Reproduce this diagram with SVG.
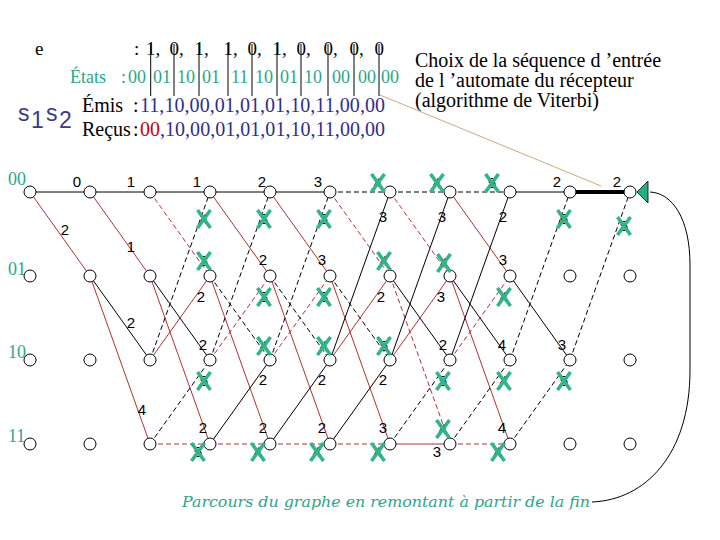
<svg xmlns="http://www.w3.org/2000/svg" width="720" height="540" viewBox="0 0 720 540">
<defs>
<style>
.b{stroke:#000;stroke-width:1;fill:none}
.r{stroke:#B03030;stroke-width:1;fill:none}
.d{stroke-dasharray:5 3}
.n{fill:#fff;stroke:#000;stroke-width:1}
.m{font-family:'Liberation Sans',Arial,sans-serif;font-size:15px;text-anchor:middle;fill:#000}
.xm{stroke:#30B48C;stroke-width:3.6;fill:none}
.rl{font-family:'Liberation Serif','Times New Roman',serif;font-size:18px;fill:#2BA58A}
</style>
<path id="x" class="xm" d="M-6.5,-9 L6.5,9 M6.5,-9 L-6.5,9"/>
</defs>
<rect width="720" height="540" fill="#fff"/>

<g id="header">
<text font-family="'Liberation Serif','Times New Roman',serif" x="35" y="55" font-size="19">e</text>
<text font-family="'Liberation Serif','Times New Roman',serif" y="55" font-size="19"><tspan x="134">:</tspan> <tspan x="146">1,</tspan> <tspan x="169.5">0,</tspan> <tspan x="194.5">1,</tspan> <tspan x="223.5">1,</tspan> <tspan x="247.5">0,</tspan> <tspan x="272.5">1,</tspan> <tspan x="296.5">0,</tspan> <tspan x="323.5">0,</tspan> <tspan x="349.5">0,</tspan> <tspan x="374.5">0</tspan></text>
<text font-family="'Liberation Serif','Times New Roman',serif" fill="#2BA58A" y="83" font-size="18"><tspan x="70">États</tspan> <tspan x="121">:</tspan> <tspan x="128">00</tspan> <tspan x="153">01</tspan> <tspan x="177">10</tspan> <tspan x="202">01</tspan> <tspan x="231">11</tspan> <tspan x="255">10</tspan> <tspan x="280">01</tspan> <tspan x="304">10</tspan> <tspan x="332">00</tspan> <tspan x="358">00</tspan> <tspan x="381">00</tspan></text>
<g class="b">
<line x1="150.7" y1="44" x2="150.7" y2="96"/><line x1="174" y1="44" x2="174" y2="96"/><line x1="199" y1="44" x2="199" y2="96"/><line x1="228" y1="44" x2="228" y2="96"/><line x1="252" y1="44" x2="252" y2="96"/><line x1="277" y1="44" x2="277" y2="96"/><line x1="301" y1="44" x2="301" y2="96"/><line x1="328" y1="44" x2="328" y2="96"/><line x1="354" y1="44" x2="354" y2="96"/><line x1="379" y1="44" x2="379" y2="96"/>
</g>
<text font-family="'Liberation Sans',Arial,sans-serif" font-size="23" fill="#3A3A8A"><tspan x="18" y="121">s</tspan><tspan x="31" y="128">1</tspan><tspan x="46" y="121">s</tspan><tspan x="59" y="128">2</tspan></text>
<text font-family="'Liberation Serif','Times New Roman',serif" y="112" font-size="20"><tspan x="82">Émis</tspan> <tspan x="133">:</tspan><tspan x="140" fill="#2E2E8C" textLength="245">11,10,00,01,01,01,10,11,00,00</tspan></text>
<text font-family="'Liberation Serif','Times New Roman',serif" y="136" font-size="20"><tspan x="82">Reçus</tspan> <tspan x="133">:</tspan><tspan x="140" fill="#CC0000">00</tspan><tspan fill="#2E2E8C" textLength="225">,10,00,01,01,01,10,11,00,00</tspan></text>
<text font-family="'Liberation Serif','Times New Roman',serif" font-size="20" fill="#000"><tspan x="415" y="67">Choix de la séquence d ’entrée</tspan><tspan x="415" y="87">de l ’automate du récepteur</tspan><tspan x="415" y="107">(algorithme de Viterbi)</tspan></text>
<line x1="380" y1="95" x2="601" y2="186" stroke="#D4A57A" stroke-width="1"/>
</g>

<g id="row-labels">
<text class="rl" x="8" y="185">00</text>
<text class="rl" x="8" y="275">01</text>
<text class="rl" x="8" y="358">10</text>
<text class="rl" x="8" y="442">11</text>
</g>

<g id="connectors">
<line class="b" x1="30" y1="192" x2="90" y2="192"/>
<line class="r" x1="30" y1="192" x2="90" y2="276"/>
<line class="b" x1="90" y1="192" x2="150" y2="192"/>
<line class="r" x1="90" y1="192" x2="150" y2="276"/>
<line class="b" x1="90" y1="276" x2="150" y2="360"/>
<line class="r" x1="90" y1="276" x2="150" y2="444"/>
<line class="b" x1="150" y1="192" x2="210" y2="192"/>
<line class="r d" x1="150" y1="192" x2="210" y2="276"/>
<line class="b" x1="150" y1="276" x2="210" y2="360"/>
<line class="r" x1="150" y1="276" x2="210" y2="444"/>
<line class="b d" x1="150" y1="360" x2="210" y2="192"/>
<line class="r" x1="150" y1="360" x2="210" y2="276"/>
<line class="b d" x1="150" y1="444" x2="210" y2="360"/>
<line class="r d" x1="150" y1="444" x2="210" y2="444"/>
<line class="b" x1="210" y1="192" x2="270" y2="192"/>
<line class="r" x1="210" y1="192" x2="270" y2="276"/>
<line class="b d" x1="210" y1="276" x2="270" y2="360"/>
<line class="r" x1="210" y1="276" x2="270" y2="444"/>
<line class="b d" x1="210" y1="360" x2="270" y2="192"/>
<line class="r d" x1="210" y1="360" x2="270" y2="276"/>
<line class="b" x1="210" y1="444" x2="270" y2="360"/>
<line class="r d" x1="210" y1="444" x2="270" y2="444"/>
<line class="b" x1="270" y1="192" x2="330" y2="192"/>
<line class="r" x1="270" y1="192" x2="330" y2="276"/>
<line class="b d" x1="270" y1="276" x2="330" y2="360"/>
<line class="r" x1="270" y1="276" x2="330" y2="444"/>
<line class="b d" x1="270" y1="360" x2="330" y2="192"/>
<line class="r d" x1="270" y1="360" x2="330" y2="276"/>
<line class="b" x1="270" y1="444" x2="330" y2="360"/>
<line class="r d" x1="270" y1="444" x2="330" y2="444"/>
<line class="b d" x1="330" y1="192" x2="390" y2="192"/>
<line class="r d" x1="330" y1="192" x2="390" y2="276"/>
<line class="b d" x1="330" y1="276" x2="390" y2="360"/>
<line class="r" x1="330" y1="276" x2="390" y2="444"/>
<line class="b" x1="330" y1="360" x2="390" y2="192"/>
<line class="r" x1="330" y1="360" x2="390" y2="276"/>
<line class="b" x1="330" y1="444" x2="390" y2="360"/>
<line class="r d" x1="330" y1="444" x2="390" y2="444"/>
<line class="b d" x1="390" y1="192" x2="450" y2="192"/>
<line class="r d" x1="390" y1="192" x2="450" y2="276"/>
<line class="b" x1="390" y1="276" x2="450" y2="360"/>
<line class="r d" x1="390" y1="276" x2="450" y2="444"/>
<line class="b" x1="390" y1="360" x2="450" y2="192"/>
<line class="r" x1="390" y1="360" x2="450" y2="276"/>
<line class="b d" x1="390" y1="444" x2="450" y2="360"/>
<line class="r" x1="390" y1="444" x2="450" y2="444"/>
<line class="b d" x1="450" y1="192" x2="510" y2="192"/>
<line class="r" x1="450" y1="192" x2="510" y2="276"/>
<line class="b" x1="450" y1="276" x2="510" y2="360"/>
<line class="r" x1="450" y1="276" x2="510" y2="444"/>
<line class="b" x1="450" y1="360" x2="510" y2="192"/>
<line class="r d" x1="450" y1="360" x2="510" y2="276"/>
<line class="b d" x1="450" y1="444" x2="510" y2="360"/>
<line class="r d" x1="450" y1="444" x2="510" y2="444"/>
<line class="b" x1="510" y1="192" x2="570" y2="192"/>
<line class="b" x1="510" y1="276" x2="570" y2="360"/>
<line class="b d" x1="510" y1="360" x2="570" y2="192"/>
<line class="b d" x1="510" y1="444" x2="570" y2="360"/>
<line x1="570" y1="192" x2="630" y2="192" stroke="#000" stroke-width="4"/>
<line class="b d" x1="570" y1="360" x2="630" y2="192"/>
<path class="b" d="M592,502 C645,500 690,455 690,370 L690,265 C690,218 672,193 650,192"/>
</g>

<g id="nodes">
<g id="n-row00"><circle class="n" cx="30" cy="192" r="6"/><circle class="n" cx="90" cy="192" r="6"/><circle class="n" cx="150" cy="192" r="6"/><circle class="n" cx="210" cy="192" r="6"/><circle class="n" cx="270" cy="192" r="6"/><circle class="n" cx="330" cy="192" r="6"/><circle class="n" cx="390" cy="192" r="6"/><circle class="n" cx="450" cy="192" r="6"/><circle class="n" cx="510" cy="192" r="6"/><circle class="n" cx="570" cy="192" r="6"/><circle class="n" cx="630" cy="192" r="6"/></g>
<g id="n-row01"><circle class="n" cx="30" cy="276" r="6"/><circle class="n" cx="90" cy="276" r="6"/><circle class="n" cx="150" cy="276" r="6"/><circle class="n" cx="210" cy="276" r="6"/><circle class="n" cx="270" cy="276" r="6"/><circle class="n" cx="330" cy="276" r="6"/><circle class="n" cx="390" cy="276" r="6"/><circle class="n" cx="450" cy="276" r="6"/><circle class="n" cx="510" cy="276" r="6"/><circle class="n" cx="570" cy="276" r="6"/><circle class="n" cx="630" cy="276" r="6"/></g>
<g id="n-row10"><circle class="n" cx="30" cy="360" r="6"/><circle class="n" cx="90" cy="360" r="6"/><circle class="n" cx="150" cy="360" r="6"/><circle class="n" cx="210" cy="360" r="6"/><circle class="n" cx="270" cy="360" r="6"/><circle class="n" cx="330" cy="360" r="6"/><circle class="n" cx="390" cy="360" r="6"/><circle class="n" cx="450" cy="360" r="6"/><circle class="n" cx="510" cy="360" r="6"/><circle class="n" cx="570" cy="360" r="6"/><circle class="n" cx="630" cy="360" r="6"/></g>
<g id="n-row11"><circle class="n" cx="30" cy="444" r="6"/><circle class="n" cx="90" cy="444" r="6"/><circle class="n" cx="150" cy="444" r="6"/><circle class="n" cx="210" cy="444" r="6"/><circle class="n" cx="270" cy="444" r="6"/><circle class="n" cx="330" cy="444" r="6"/><circle class="n" cx="390" cy="444" r="6"/><circle class="n" cx="450" cy="444" r="6"/><circle class="n" cx="510" cy="444" r="6"/><circle class="n" cx="570" cy="444" r="6"/><circle class="n" cx="630" cy="444" r="6"/></g>
<g id="end-marker"><polygon points="637,192 648,181 648,203" fill="#20B088" stroke="#000" stroke-width="0.8"/></g>
</g>

<g id="metrics">
<text class="m" x="77" y="187">0</text>
<text class="m" x="65" y="235">2</text>
<text class="m" x="131" y="187">1</text>
<text class="m" x="131" y="252">1</text>
<text class="m" x="131" y="328">2</text>
<text class="m" x="142" y="415">4</text>
<text class="m" x="197" y="187">1</text>
<text class="m" x="201" y="302">2</text>
<text class="m" x="203" y="350">2</text>
<text class="m" x="203" y="433">2</text>
<text class="m" x="262" y="187">2</text>
<text class="m" x="263" y="265">2</text>
<text class="m" x="263" y="385">2</text>
<text class="m" x="263" y="433">2</text>
<text class="m" x="318" y="187">3</text>
<text class="m" x="322" y="265">3</text>
<text class="m" x="322" y="385">2</text>
<text class="m" x="322" y="433">2</text>
<text class="m" x="383" y="222">3</text>
<text class="m" x="381" y="302">2</text>
<text class="m" x="383" y="385">2</text>
<text class="m" x="383" y="433">3</text>
<text class="m" x="442" y="222">3</text>
<text class="m" x="441" y="302">3</text>
<text class="m" x="443" y="350">2</text>
<text class="m" x="437" y="457">3</text>
<text class="m" x="503" y="222">2</text>
<text class="m" x="503" y="265">3</text>
<text class="m" x="502" y="350">4</text>
<text class="m" x="502" y="433">4</text>
<text class="m" x="557" y="187">2</text>
<text class="m" x="562" y="350">3</text>
<text class="m" x="617" y="187">2</text>
</g>

<g id="crossed">
<text class="m" x="204" y="224">4</text><use href="#x" x="204" y="219"/>
<text class="m" x="204" y="266">3</text><use href="#x" x="204" y="261"/>
<text class="m" x="204" y="386">5</text><use href="#x" x="204" y="381"/>
<text class="m" x="198" y="457">5</text><use href="#x" x="198" y="452"/>
<text class="m" x="264" y="224">3</text><use href="#x" x="264" y="219"/>
<text class="m" x="264" y="302">3</text><use href="#x" x="264" y="297"/>
<text class="m" x="264" y="351">4</text><use href="#x" x="264" y="346"/>
<text class="m" x="258" y="457">4</text><use href="#x" x="258" y="452"/>
<text class="m" x="324" y="224">3</text><use href="#x" x="324" y="219"/>
<text class="m" x="324" y="302">3</text><use href="#x" x="324" y="297"/>
<text class="m" x="324" y="351">4</text><use href="#x" x="324" y="346"/>
<text class="m" x="317" y="457">4</text><use href="#x" x="317" y="452"/>
<text class="m" x="378" y="188">4</text><use href="#x" x="378" y="183"/>
<text class="m" x="384" y="266">4</text><use href="#x" x="384" y="261"/>
<text class="m" x="384" y="351">5</text><use href="#x" x="384" y="346"/>
<text class="m" x="378" y="457">4</text><use href="#x" x="378" y="452"/>
<text class="m" x="437" y="188">4</text><use href="#x" x="437" y="183"/>
<text class="m" x="444" y="268">4</text><use href="#x" x="444" y="263"/>
<text class="m" x="443" y="386">5</text><use href="#x" x="443" y="381"/>
<text class="m" x="443" y="434">4</text><use href="#x" x="443" y="429"/>
<text class="m" x="492" y="188">5</text><use href="#x" x="492" y="183"/>
<text class="m" x="504" y="302">4</text><use href="#x" x="504" y="297"/>
<text class="m" x="504" y="386">4</text><use href="#x" x="504" y="381"/>
<text class="m" x="498" y="457">4</text><use href="#x" x="498" y="452"/>
<text class="m" x="564" y="224">6</text><use href="#x" x="564" y="219"/>
<text class="m" x="564" y="386">5</text><use href="#x" x="564" y="381"/>
<text class="m" x="624" y="231">5</text><use href="#x" x="624" y="226"/>
</g>

<text x="182" y="507" font-family="'DejaVu Serif','Liberation Serif',serif" font-style="italic" font-size="15" fill="#2BA58A" textLength="408" lengthAdjust="spacingAndGlyphs">Parcours du graphe en remontant à partir de la fin</text>
</svg>
